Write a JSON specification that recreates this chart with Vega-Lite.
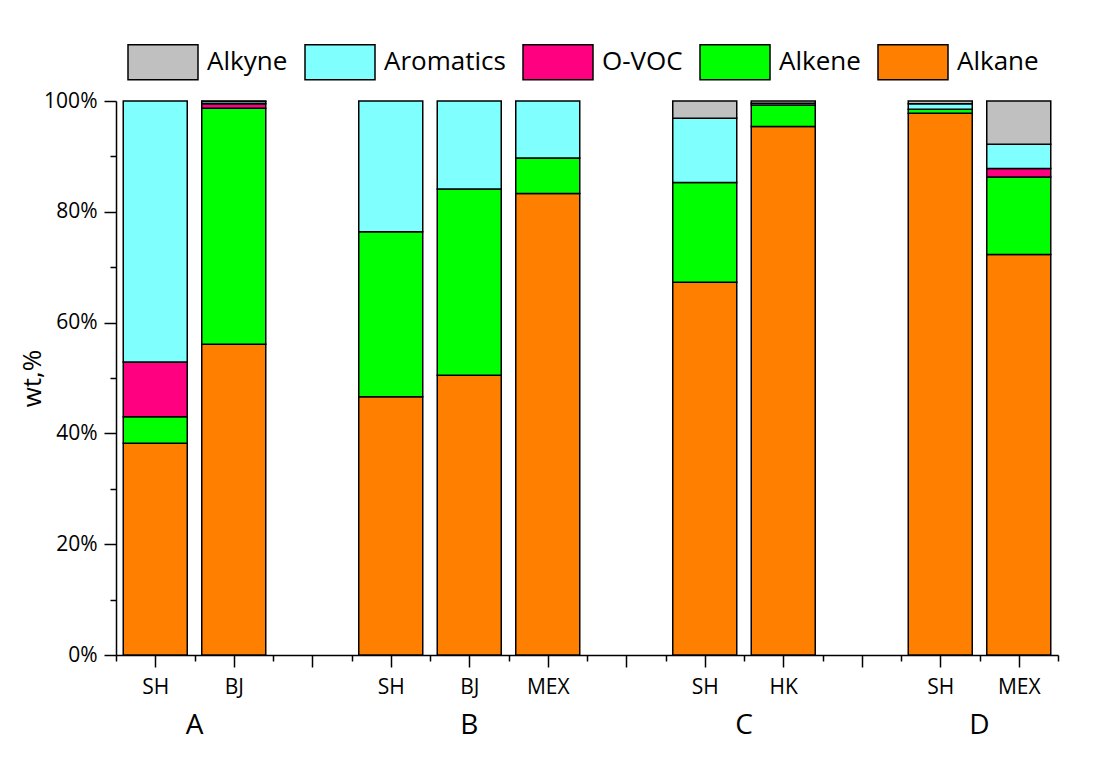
{
  "$schema": "https://vega.github.io/schema/vega-lite/v6.json",
  "width": 942,
  "height": 554,
  "autosize": "none",
  "padding": {"left": 116, "top": 101, "right": 42, "bottom": 121},
  "background": "white",
  "config": {
    "font": "Open Sans",
    "view": {"stroke": null},
    "axis": {"grid": false, "domainColor": "black", "tickColor": "black", "labelColor": "black", "titleColor": "black", "domainWidth": 1.5, "tickWidth": 1.5},
    "legend": {
      "orient": "none", "legendX": 11, "legendY": -75, "direction": "horizontal", "columns": 5,
      "symbolType": "M-1,-0.5L1,-0.5L1,0.5L-1,0.5Z", "symbolSize": 4900,
      "symbolStrokeColor": "black", "symbolStrokeWidth": 1.5, "symbolFillOpacity": 1, "symbolOpacity": 1,
      "labelFontSize": 26, "labelColor": "black", "labelOffset": 8, "columnPadding": 14, "labelLimit": 0, "padding": 0
    }
  },
  "data": {
    "values": [
      {"group": "A", "site": "SH", "slot": 1, "type": "Alkane", "value": 38.2},
      {"group": "A", "site": "SH", "slot": 1, "type": "Alkene", "value": 4.8},
      {"group": "A", "site": "SH", "slot": 1, "type": "O-VOC", "value": 9.9},
      {"group": "A", "site": "SH", "slot": 1, "type": "Aromatics", "value": 47.1},
      {"group": "A", "site": "BJ", "slot": 2, "type": "Alkane", "value": 56.1},
      {"group": "A", "site": "BJ", "slot": 2, "type": "Alkene", "value": 42.6},
      {"group": "A", "site": "BJ", "slot": 2, "type": "O-VOC", "value": 0.8},
      {"group": "A", "site": "BJ", "slot": 2, "type": "Aromatics", "value": 0.4},
      {"group": "A", "site": "BJ", "slot": 2, "type": "Alkyne", "value": 0.1},
      {"group": "B", "site": "SH", "slot": 4, "type": "Alkane", "value": 46.6},
      {"group": "B", "site": "SH", "slot": 4, "type": "Alkene", "value": 29.8},
      {"group": "B", "site": "SH", "slot": 4, "type": "Aromatics", "value": 23.6},
      {"group": "B", "site": "BJ", "slot": 5, "type": "Alkane", "value": 50.5},
      {"group": "B", "site": "BJ", "slot": 5, "type": "Alkene", "value": 33.6},
      {"group": "B", "site": "BJ", "slot": 5, "type": "Aromatics", "value": 15.9},
      {"group": "B", "site": "MEX", "slot": 6, "type": "Alkane", "value": 83.3},
      {"group": "B", "site": "MEX", "slot": 6, "type": "Alkene", "value": 6.4},
      {"group": "B", "site": "MEX", "slot": 6, "type": "Aromatics", "value": 10.3},
      {"group": "C", "site": "SH", "slot": 8, "type": "Alkane", "value": 67.3},
      {"group": "C", "site": "SH", "slot": 8, "type": "Alkene", "value": 18.0},
      {"group": "C", "site": "SH", "slot": 8, "type": "Aromatics", "value": 11.6},
      {"group": "C", "site": "SH", "slot": 8, "type": "Alkyne", "value": 3.1},
      {"group": "C", "site": "HK", "slot": 9, "type": "Alkane", "value": 95.4},
      {"group": "C", "site": "HK", "slot": 9, "type": "Alkene", "value": 3.9},
      {"group": "C", "site": "HK", "slot": 9, "type": "Aromatics", "value": 0.3},
      {"group": "C", "site": "HK", "slot": 9, "type": "Alkyne", "value": 0.4},
      {"group": "D", "site": "SH", "slot": 11, "type": "Alkane", "value": 97.8},
      {"group": "D", "site": "SH", "slot": 11, "type": "Alkene", "value": 0.7},
      {"group": "D", "site": "SH", "slot": 11, "type": "Aromatics", "value": 1.0},
      {"group": "D", "site": "SH", "slot": 11, "type": "Alkyne", "value": 0.5},
      {"group": "D", "site": "MEX", "slot": 12, "type": "Alkane", "value": 72.3},
      {"group": "D", "site": "MEX", "slot": 12, "type": "Alkene", "value": 14.0},
      {"group": "D", "site": "MEX", "slot": 12, "type": "O-VOC", "value": 1.5},
      {"group": "D", "site": "MEX", "slot": 12, "type": "Aromatics", "value": 4.4},
      {"group": "D", "site": "MEX", "slot": 12, "type": "Alkyne", "value": 7.8}
    ]
  },
  "resolve": {"axis": {"x": "independent", "y": "independent"}},
  "layer": [
    {
      "transform": [{"calculate": "indexof(['Alkane','Alkene','O-VOC','Aromatics','Alkyne'], datum.type)", "as": "rank"}],
      "mark": {"type": "bar", "width": 64, "stroke": "black", "strokeWidth": 1.5},
      "encoding": {
        "x": {
          "field": "slot", "type": "quantitative",
          "scale": {"domain": [0.5, 12.5], "nice": false, "zero": false, "padding": 0},
          "axis": {
            "orient": "bottom", "title": null,
            "values": [1, 2, 3, 4, 5, 6, 7, 8, 9, 10, 11, 12],
            "labelExpr": "(datum.value == 1 || datum.value == 4 || datum.value == 8 || datum.value == 11) ? 'SH' : (datum.value == 2 || datum.value == 5) ? 'BJ' : (datum.value == 6 || datum.value == 12) ? 'MEX' : datum.value == 9 ? 'HK' : ''",
            "tickSize": 12,
            "labelFontSize": 21, "labelPadding": 9, "labelAngle": 0, "labelOverlap": false, "labelFlush": false
          }
        },
        "y": {
          "field": "value", "type": "quantitative", "stack": "zero",
          "scale": {"domain": [0, 100], "nice": false, "padding": 0},
          "axis": {
            "orient": "left", "title": "wt,%", "titleFontSize": 26, "titleFontWeight": "normal", "titlePadding": -2,
            "values": [0, 20, 40, 60, 80, 100],
            "labelExpr": "datum.value + '%'",
            "tickSize": 12,
            "labelFontSize": 21, "labelPadding": 7, "labelOverlap": false, "labelFlush": false
          }
        },
        "color": {
          "field": "type", "type": "nominal",
          "scale": {"domain": ["Alkyne", "Aromatics", "O-VOC", "Alkene", "Alkane"], "range": ["#C0C0C0", "#80FFFF", "#FF0080", "#00FF00", "#FF8000"]},
          "legend": {"title": null}
        },
        "order": {"field": "rank", "type": "quantitative"}
      }
    },
    {
      "transform": [
        {"filter": "datum.type === 'Alkane'"},
        {"aggregate": [{"op": "mean", "field": "slot", "as": "center"}], "groupby": ["group"]}
      ],
      "mark": {"type": "text", "dy": 71, "fontSize": 28, "baseline": "middle", "align": "center", "color": "black"},
      "encoding": {
        "x": {
          "field": "center", "type": "quantitative",
          "axis": {"orient": "bottom", "title": null, "values": [0.5, 1.5, 2.5, 3.5, 4.5, 5.5, 6.5, 7.5, 8.5, 9.5, 10.5, 11.5, 12.5], "labels": false, "domain": false, "tickSize": 6}
        },
        "y": {
          "datum": 0, "type": "quantitative",
          "axis": {"orient": "left", "title": null, "values": [10, 30, 50, 70, 90], "labels": false, "domain": false, "tickSize": 6}
        },
        "text": {"field": "group"}
      }
    }
  ]
}
